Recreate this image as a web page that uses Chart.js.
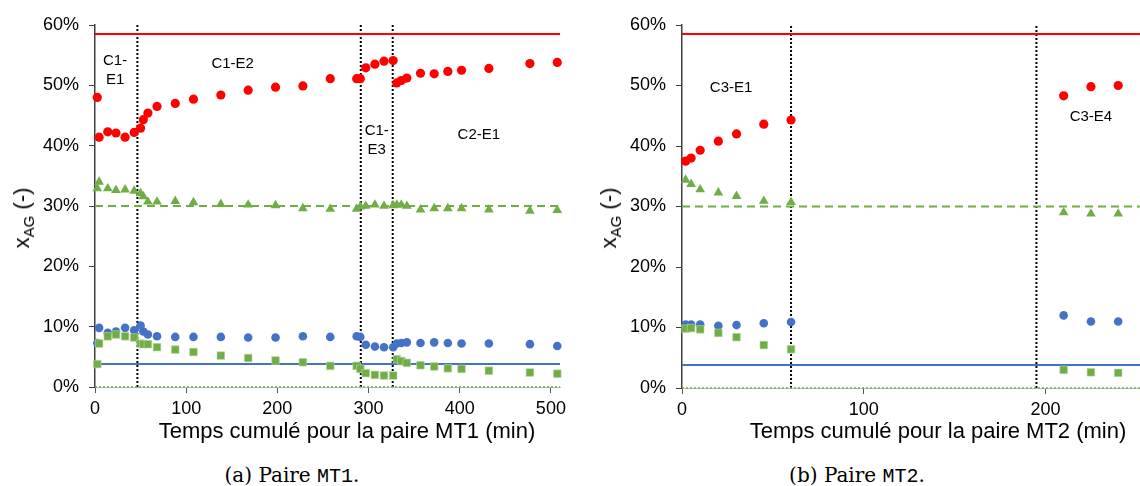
<!DOCTYPE html>
<html><head><meta charset="utf-8">
<script src="https://cdn.jsdelivr.net/npm/chart.js@4.4.1/dist/chart.umd.min.js"></script>
<style>
html,body{margin:0;padding:0;background:#fff;width:1140px;height:486px;overflow:hidden;position:relative;font-family:'Liberation Sans',Arial,sans-serif;color:#000;}
canvas{position:absolute;top:0;}
#cA{left:0;}
#cB{left:575px;}
.ytitle{position:absolute;font-size:22px;line-height:22px;white-space:nowrap;transform:translate(-50%,-50%) rotate(-90deg);}
.ytitle sub{font-size:15px;line-height:0;vertical-align:-5px;}
.xtitle{position:absolute;top:420px;font-size:22px;line-height:22px;white-space:nowrap;transform:translateX(-50%);}
.cap{position:absolute;top:465px;font-family:'DejaVu Serif',serif;font-size:20px;line-height:20px;white-space:nowrap;transform:translateX(-50%);}
.cap .tt{font-family:'Liberation Mono',monospace;}
</style>
</head><body>
<canvas id="cA" width="575" height="450"></canvas>
<canvas id="cB" width="565" height="450"></canvas>
<div class="ytitle" style="left:22px;top:218px;">x<sub>AG</sub> (-)</div>
<div class="ytitle" style="left:609px;top:218px;">x<sub>AG</sub> (-)</div>
<div class="xtitle" style="left:347px;">Temps cumulé pour la paire MT1 (min)</div>
<div class="xtitle" style="left:938px;">Temps cumulé pour la paire MT2 (min)</div>
<div class="cap" style="left:292px;">(a) Paire <span class="tt">MT1</span>.</div>
<div class="cap" style="left:857px;">(b) Paire <span class="tt">MT2</span>.</div>
<script>
// ---- Data: pair MT1 (minutes, % values) ----
const timeMT1 = [2.5, 4.5, 14, 23, 33, 43, 50, 53, 58, 68, 88, 108, 138, 168, 198, 228, 258, 287, 291, 297, 307, 317, 327, 331, 336, 342, 357, 372, 387, 402, 432, 477, 507];
const redMT1  = [48.0, 41.4, 42.3, 42.1, 41.4, 42.2, 42.9, 44.3, 45.4, 46.5, 47.0, 47.7, 48.4, 49.2, 49.7, 49.9, 51.1, 51.1, 51.1, 52.9, 53.5, 54.0, 54.1, 50.4, 50.8, 51.2, 52.0, 51.9, 52.3, 52.5, 52.8, 53.6, 53.8];
const triMT1  = [32.9, 34.0, 32.9, 32.6, 32.7, 32.5, 32.1, 31.6, 30.7, 30.7, 30.8, 30.6, 30.3, 30.2, 30.1, 29.6, 29.5, 29.5, 29.9, 30.0, 30.2, 30.0, 30.1, 30.2, 30.2, 30.0, 29.4, 29.6, 29.6, 29.6, 29.4, 29.2, 29.3];
const blueMT1 = [7.3, 9.8, 9.0, 9.2, 9.8, 9.4, 10.2, 9.2, 8.7, 8.4, 8.3, 8.3, 8.3, 8.2, 8.2, 8.4, 8.3, 8.4, 8.3, 7.0, 6.7, 6.6, 6.6, 7.2, 7.3, 7.4, 7.3, 7.4, 7.3, 7.2, 7.2, 7.1, 6.8];
const sqMT1   = [3.8, 7.2, 8.4, 8.7, 8.4, 8.2, 7.2, 7.1, 7.1, 6.6, 6.2, 5.8, 5.2, 4.8, 4.4, 4.1, 3.5, 3.5, 3.0, 2.3, 2.0, 1.9, 1.9, 4.6, 4.3, 4.0, 3.6, 3.4, 3.1, 3.0, 2.7, 2.4, 2.2];
const dividersMT1 = [46.5, 291.5, 326.5];

// ---- Data: pair MT2 ----
const timeMT2 = [2, 5, 10, 20, 30, 45, 60, 210, 225, 240];
const redMT2  = [37.5, 38.0, 39.3, 40.8, 42.0, 43.6, 44.3, 48.3, 49.8, 50.0];
const triMT2  = [34.4, 33.7, 32.8, 32.3, 31.7, 30.9, 30.7, 29.0, 28.8, 28.8];
const blueMT2 = [10.5, 10.5, 10.5, 10.3, 10.4, 10.7, 10.9, 12.0, 11.0, 11.0];
const sqMT2   = [9.8, 9.9, 9.7, 9.1, 8.4, 7.1, 6.4, 3.0, 2.6, 2.5];
const dividersMT2 = [60, 195];

// reference levels (%)
const levelRed = 58.5;
const levelGreen = 30;
const levelBlue = 3.8;
const levelZero = 0;

// tick labels
const yTicks = [0, 10, 20, 30, 40, 50, 60];
const xTicksMT1 = [0, 100, 200, 300, 400, 500];
const xTicksMT2 = [0, 100, 200];

// region labels
const regionsMT1 = [
  {lines: ['C1-', 'E1'], x: 22, y: 52.5},
  {lines: ['C1-E2'], x: 151, y: 53.6},
  {lines: ['C1-', 'E3'], x: 309, y: 40.8},
  {lines: ['C2-E1'], x: 421, y: 41.8}
];
const regionsMT2 = [
  {lines: ['C3-E1'], x: 27, y: 49.6},
  {lines: ['C3-E4'], x: 225, y: 44.8}
];

const FONT = "'Liberation Sans', Arial, sans-serif";
const RED = '#FF0000', BLUE = '#4472C4', GREEN = '#70AD47';

const pts = (xs, ys) => xs.map((x, i) => ({x, y: ys[i]}));

const regionText = {
  id: 'regionText',
  afterDatasetsDraw(chart, args, opts) {
    const {ctx, scales: {x, y}} = chart;
    ctx.save();
    ctx.font = '15px ' + FONT;
    ctx.fillStyle = '#000';
    ctx.textAlign = 'center';
    ctx.textBaseline = 'middle';
    (opts.items || []).forEach(it => {
      const px = x.getPixelForValue(it.x), py = y.getPixelForValue(it.y);
      it.lines.forEach((ln, i) => {
        ctx.fillText(ln, px, py + (i - (it.lines.length - 1) / 2) * 19);
      });
    });
    ctx.restore();
  }
};

function build(id, times, red, tri, blue, sq, dividers, xMax, xTicks, regions, yWidth, xHeight, padRight) {
  const hline = (lvl, color, dash, width, order) => ({
    data: [{x: 0, y: lvl}, {x: xMax, y: lvl}], showLine: true, pointRadius: 0, pointHoverRadius: 0,
    borderColor: color, borderWidth: width, borderDash: dash, order, clip: false
  });
  const datasets = [
    {data: pts(times, sq), pointStyle: 'rect', pointRadius: 5.4, backgroundColor: GREEN, borderColor: '#b9d6a3', borderWidth: 0.6, order: 1, clip: false},
    {data: pts(times, blue), pointStyle: 'circle', pointRadius: 4.3, backgroundColor: BLUE, borderWidth: 0, order: 2, clip: false},
    {data: pts(times, tri), pointStyle: 'triangle', pointRadius: 5.6, backgroundColor: GREEN, borderWidth: 0, order: 3, clip: false},
    {data: pts(times, red), pointStyle: 'circle', pointRadius: 4.6, backgroundColor: RED, borderWidth: 0, order: 4, clip: false},
    hline(levelRed, RED, [], 2, 5),
    hline(levelBlue, BLUE, [], 2, 5),
    hline(levelGreen, GREEN, [8, 5], 2, 5),
    hline(levelZero, GREEN, [2, 2], 1.5, 5)
  ];
  dividers.forEach(d => datasets.push({
    data: [{x: d, y: 0}, {x: d, y: 60}], showLine: true, pointRadius: 0, pointHoverRadius: 0,
    borderColor: '#000', borderWidth: 2, borderDash: [2, 2], order: 6
  }));
  return new Chart(document.getElementById(id), {
    type: 'scatter',
    data: {datasets},
    plugins: [regionText],
    options: {
      responsive: false, animation: false, devicePixelRatio: 1,
      layout: {autoPadding: false, padding: {left: 0, top: 25, right: padRight, bottom: 0}},
      plugins: {legend: {display: false}, tooltip: {enabled: false}, regionText: {items: regions}},
      scales: {
        x: {
          type: 'linear', min: 0, max: xMax,
          afterBuildTicks: s => { s.ticks = xTicks.map(v => ({value: v})); },
          afterFit: s => { s.height = xHeight; s.paddingLeft = 0; s.paddingRight = 0; },
          ticks: {font: {family: FONT, size: 18}, color: '#000', padding: 5, maxRotation: 0, autoSkip: false},
          grid: {drawOnChartArea: false, drawTicks: true, tickLength: 6, color: '#595959'},
          border: {color: '#bfbfbf', width: 1}
        },
        y: {
          min: 0, max: 60,
          afterBuildTicks: s => { s.ticks = yTicks.map(v => ({value: v})); },
          afterFit: s => { s.width = yWidth; s.paddingTop = 0; s.paddingBottom = 0; },
          ticks: {font: {family: FONT, size: 18}, color: '#000', padding: 10, callback: v => v + '%'},
          grid: {drawOnChartArea: false, drawTicks: true, tickLength: 6, color: '#404040'},
          border: {color: '#404040', width: 1.5}
        }
      }
    }
  });
}

build('cA', timeMT1, redMT1, triMT1, blueMT1, sqMT1, dividersMT1, 510, xTicksMT1, regionsMT1, 95, 63, 15);
build('cB', timeMT2, redMT2, triMT2, blueMT2, sqMT2, dividersMT2, 252, xTicksMT2, regionsMT2, 107, 62, 0);
</script>
</body></html>
